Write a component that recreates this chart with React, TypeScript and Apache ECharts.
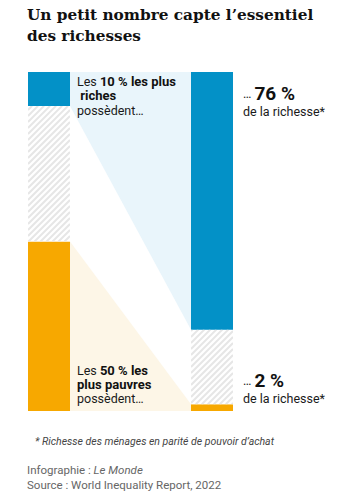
import React, { useEffect, useRef } from "react";
import * as echarts from "echarts";

const groups = ["Population", "Richesse"];
const richest10 = [10, 76];
const middle40 = [40, 22];
const poorest50 = [50, 2];
const titleLines = ["Un petit nombre capte l’essentiel", "des richesses"];
const footnote = "* Richesse des ménages en parité de pouvoir d’achat";

const BLUE = "#0391c7";
const ORANGE = "#f7a800";
const HW = 21;

export default function App() {
  const ref = useRef<HTMLDivElement>(null);
  useEffect(() => {
    if (!ref.current) return;
    const chart = echarts.init(ref.current, null, { renderer: "svg" });
    const sans = "Roboto";
    const topStart = [poorest50[0] + middle40[0], poorest50[1] + middle40[1]];
    const flows = [
      [0, 0, poorest50[0], 0, poorest50[1]],
      [0, topStart[0], topStart[0] + richest10[0], topStart[1], topStart[1] + richest10[1]],
    ];
    const hatches = groups.map((_, i) => [i, poorest50[i], poorest50[i] + middle40[i]]);
    const flowColors = ["#fdf6e7", "#e9f5fb"];
    const fs = 12.5;
    const line = (x: number, y: number, text: string, extra: any = {}) => ({
      type: "text",
      x,
      y,
      z: 100,
      style: {
        text,
        fontFamily: sans,
        fontSize: fs,
        fill: "#1a1a1a",
        verticalAlign: "middle",
        align: "left",
        rich: {
          r: { fontFamily: sans, fontSize: fs, lineHeight: 12, fill: "#1a1a1a" },
          b: { fontFamily: sans, fontSize: 13, lineHeight: 12, fontWeight: "bold", fill: "#111" },
          big: { fontFamily: sans, fontSize: 19, lineHeight: 15, fontWeight: "bold", fill: "#111" },
        },
        ...extra,
      },
    });
    const bar = (data: number[], color: string) => ({
      type: "bar",
      stack: "s",
      z: 2,
      barWidth: HW * 2,
      clip: false,
      data,
      itemStyle: { color },
    });
    chart.setOption({
      animation: false,
      grid: { left: 49, right: 138, top: 72, bottom: 87 },
      xAxis: { type: "category", data: groups, boundaryGap: false, show: false },
      yAxis: { type: "value", min: 0, max: 100, show: false },
      series: [
        {
          type: "custom",
          z: 1,
          data: flows,
          encode: { x: 0, y: 1 },
          renderItem: (params: any, api: any) => {
            const a = api.coord([0, api.value(1)]);
            const b = api.coord([0, api.value(2)]);
            const c = api.coord([1, api.value(3)]);
            const d = api.coord([1, api.value(4)]);
            return {
              type: "polygon",
              shape: {
                points: [
                  [a[0] + HW, b[1]],
                  [c[0] - HW, d[1]],
                  [c[0] - HW, c[1]],
                  [a[0] + HW, a[1]],
                ],
              },
              style: { fill: flowColors[params.dataIndex] },
            };
          },
        },
        bar(poorest50, ORANGE),
        bar(middle40, "#ffffff"),
        bar(richest10, BLUE),
        {
          type: "custom",
          z: 3,
          data: hatches,
          encode: { x: 0, y: 1 },
          renderItem: (params: any, api: any) => {
            const idx = api.value(0);
            const lo = api.coord([idx, api.value(1)]);
            const hi = api.coord([idx, api.value(2)]);
            const x0 = lo[0] - HW;
            const x1 = lo[0] + HW;
            const y0 = hi[1];
            const y1 = lo[1];
            const step = 6;
            const children: any[] = [];
            const kStart = Math.ceil((x0 + y0) / step) * step;
            for (let k = kStart; k <= x1 + y1; k += step) {
              const xa = Math.max(x0, k - y1);
              const xb = Math.min(x1, k - y0);
              if (xb <= xa) continue;
              children.push({
                type: "line",
                shape: { x1: xa, y1: k - xa, x2: xb, y2: k - xb },
                style: { stroke: "#e6e6e6", lineWidth: 2 },
              });
            }
            return {
              type: "group",
              clipPath: { type: "rect", shape: { x: x0, y: y0, width: x1 - x0, height: y1 - y0 } },
              children,
            };
          },
        },
      ],
      graphic: [
        {
          type: "text",
          x: 27,
          y: 15,
          z: 100,
          style: {
            text: titleLines[0],
            font: 'bold 15.3px "DejaVu Serif"',
            fill: "#111",
            verticalAlign: "middle",
          },
        },
        {
          type: "text",
          x: 27,
          y: 36,
          z: 100,
          style: {
            text: titleLines[1],
            font: 'bold 15.3px "DejaVu Serif"',
            fill: "#111",
            verticalAlign: "middle",
          },
        },
        line(77, 81.5, `{r|Les }{b|${richest10[0]} % les plus}`),
        line(77, 95.5, "{b| riches}"),
        line(77, 110.5, "{r|possèdent…}"),
        line(243, 93.5, `{r|… }{big|${richest10[1]} %}`),
        line(243, 111, "{r|de la richesse*}"),
        line(77, 370.5, `{r|Les }{b|${poorest50[0]} % les}`),
        line(77, 384.5, "{b|plus pauvres}"),
        line(77, 398, "{r|possèdent…}"),
        line(243, 380, `{r|… }{big|${poorest50[1]} %}`),
        line(243, 398, "{r|de la richesse*}"),
        {
          type: "text",
          x: 35,
          y: 441,
          z: 100,
          style: {
            text: footnote,
            fontFamily: sans,
            fontSize: 10.5,
            fontStyle: "italic",
            fill: "#444",
            verticalAlign: "middle",
          },
        },
        line(27, 470, "{g|Infographie : }{gi|Le Monde}", {
          rich: {
            g: { fontFamily: sans, fontSize: 11.5, fill: "#666" },
            gi: { fontFamily: sans, fontSize: 11.5, fontStyle: "italic", fill: "#666" },
          },
        }),
        line(27, 485, "{g|Source : World Inequality Report, 2022}", {
          rich: { g: { fontFamily: sans, fontSize: 11.5, fill: "#666" } },
        }),
      ],
    });
    return () => chart.dispose();
  }, []);
  return (
    <div
      ref={ref}
      style={{ position: "fixed", left: 0, top: 0, width: 350, height: 498, background: "#fff" }}
    />
  );
}
